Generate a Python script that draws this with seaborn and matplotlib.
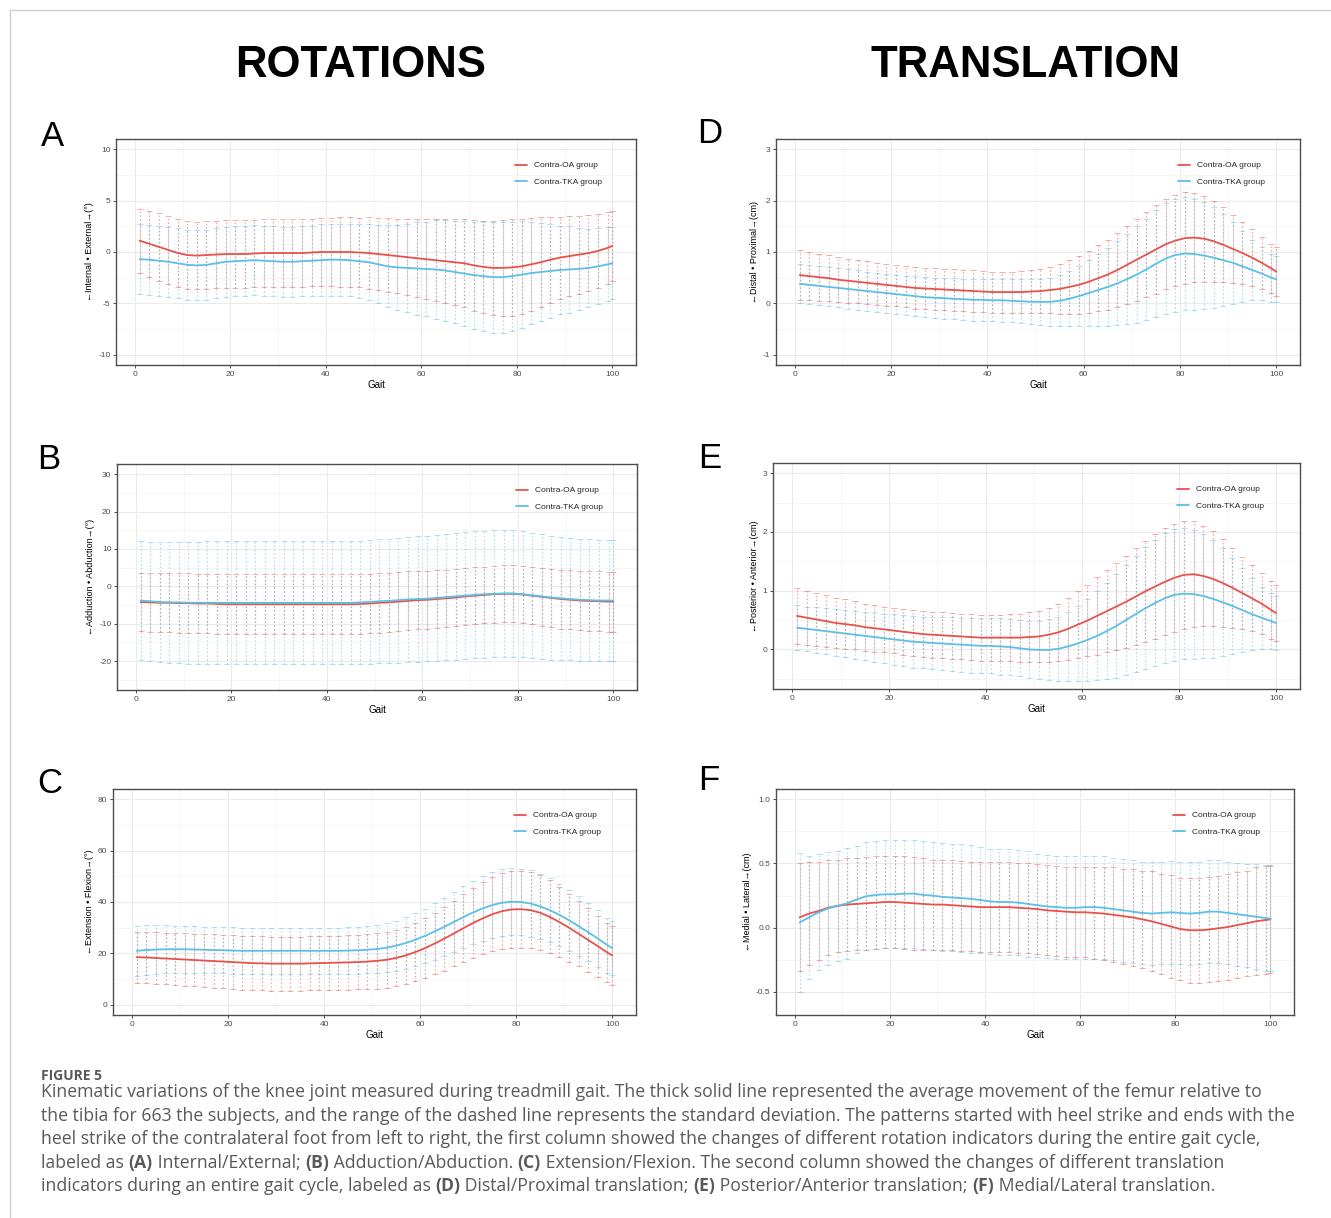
"""
Knee kinematics during treadmill gait (Contra-OA vs Contra-TKA groups).
Six panels: rotations (A-C) on the left, translations (D-F) on the right.
"""
import re
import numpy as np
import pandas as pd
import matplotlib
matplotlib.use("Agg")
import matplotlib.pyplot as plt
from matplotlib.lines import Line2D
import seaborn as sns

W, H = 1331, 1218

GROUPS = ["Contra-OA group", "Contra-TKA group"]
COLORS = ["#E8524B", "#5BBFE6"]

GAIT = list(range(1, 100, 2)) + [100]

# ---- A: internal / external rotation (deg)
A_OA_MEAN = [1.10, 0.80, 0.50, 0.20, -0.10, -0.30, -0.35, -0.30, -0.25, -0.20,
             -0.20, -0.20, -0.15, -0.10, -0.10, -0.10, -0.10, -0.10, -0.05, 0.00,
             0.00, 0.00, 0.00, -0.05, -0.10, -0.20, -0.30, -0.40, -0.50, -0.60,
             -0.70, -0.80, -0.90, -1.00, -1.10, -1.30, -1.45, -1.55, -1.55, -1.50,
             -1.40, -1.20, -1.00, -0.75, -0.55, -0.40, -0.25, -0.10, 0.10, 0.40,
             0.60]
A_OA_SD = [3.1, 3.2, 3.3, 3.3, 3.3, 3.3, 3.3, 3.3, 3.3, 3.3,
           3.3, 3.3, 3.3, 3.3, 3.3, 3.3, 3.3, 3.3, 3.3, 3.3,
           3.3, 3.4, 3.4, 3.4, 3.5, 3.5, 3.6, 3.6, 3.7, 3.8,
           3.9, 4.0, 4.1, 4.2, 4.3, 4.4, 4.5, 4.6, 4.7, 4.7,
           4.6, 4.5, 4.4, 4.2, 4.0, 3.9, 3.8, 3.7, 3.6, 3.5,
           3.4]
A_TKA_MEAN = [-0.70, -0.75, -0.85, -0.95, -1.10, -1.25, -1.30, -1.25, -1.10, -0.95,
              -0.90, -0.85, -0.80, -0.85, -0.90, -0.95, -0.95, -0.90, -0.85, -0.80,
              -0.75, -0.75, -0.80, -0.90, -1.00, -1.20, -1.40, -1.50, -1.55, -1.60,
              -1.65, -1.70, -1.80, -1.95, -2.10, -2.25, -2.35, -2.45, -2.45, -2.35,
              -2.20, -2.05, -1.95, -1.85, -1.75, -1.70, -1.65, -1.55, -1.40, -1.20,
              -1.10]
A_TKA_SD = [3.4, 3.4, 3.4, 3.4, 3.4, 3.4, 3.4, 3.4, 3.4, 3.4,
            3.4, 3.4, 3.4, 3.4, 3.4, 3.4, 3.4, 3.4, 3.4, 3.5,
            3.5, 3.5, 3.5, 3.6, 3.7, 3.8, 4.0, 4.1, 4.3, 4.5,
            4.6, 4.8, 4.9, 5.0, 5.1, 5.2, 5.3, 5.4, 5.4, 5.3,
            5.2, 5.0, 4.8, 4.6, 4.3, 4.2, 4.0, 3.8, 3.7, 3.6,
            3.5]

# ---- B: adduction / abduction (deg)
B_OA_MEAN = [-4.2, -4.3, -4.4, -4.4, -4.5, -4.5, -4.6, -4.6, -4.7, -4.8,
             -4.8, -4.8, -4.8, -4.8, -4.8, -4.8, -4.8, -4.8, -4.8, -4.8,
             -4.8, -4.8, -4.8, -4.7, -4.6, -4.4, -4.3, -4.1, -3.9, -3.7,
             -3.6, -3.4, -3.2, -3.0, -2.7, -2.5, -2.3, -2.1, -2.0, -2.0,
             -2.2, -2.5, -2.8, -3.1, -3.4, -3.6, -3.8, -3.9, -4.0, -4.1,
             -4.1]
B_OA_SD = [7.8, 7.8, 7.9, 7.9, 8.0, 8.0, 8.0, 8.0, 8.0, 8.0,
           8.0, 8.0, 8.0, 8.0, 8.0, 8.0, 8.0, 8.0, 8.0, 8.0,
           8.0, 8.0, 8.0, 8.0, 8.0, 8.0, 8.0, 7.9, 7.9, 7.8,
           7.8, 7.8, 7.7, 7.7, 7.6, 7.6, 7.6, 7.6, 7.6, 7.6,
           7.7, 7.7, 7.8, 7.8, 7.9, 7.9, 8.0, 8.0, 8.0, 8.0,
           8.0]
B_TKA_MEAN = [-3.8, -4.0, -4.2, -4.3, -4.3, -4.4, -4.4, -4.4, -4.4, -4.4,
              -4.4, -4.4, -4.4, -4.4, -4.4, -4.4, -4.4, -4.4, -4.4, -4.4,
              -4.4, -4.4, -4.4, -4.3, -4.2, -4.0, -3.9, -3.7, -3.5, -3.4,
              -3.3, -3.1, -2.9, -2.7, -2.5, -2.3, -2.1, -2.0, -1.9, -1.9,
              -2.1, -2.4, -2.7, -3.0, -3.2, -3.4, -3.6, -3.7, -3.8, -3.8,
              -3.8]
B_TKA_SD = [16.0, 16.0, 16.0, 16.1, 16.2, 16.3, 16.4, 16.5, 16.5, 16.5,
            16.5, 16.5, 16.5, 16.5, 16.5, 16.5, 16.5, 16.5, 16.5, 16.5,
            16.5, 16.5, 16.5, 16.5, 16.5, 16.6, 16.6, 16.7, 16.7, 16.8,
            16.8, 16.9, 16.9, 17.0, 17.0, 17.0, 17.0, 17.0, 17.0, 17.0,
            16.9, 16.8, 16.7, 16.6, 16.5, 16.4, 16.4, 16.3, 16.3, 16.3,
            16.3]

# ---- C: extension / flexion (deg)
C_OA_MEAN = [18.5, 18.4, 18.2, 18.0, 17.8, 17.6, 17.4, 17.2, 17.0, 16.8,
             16.6, 16.4, 16.2, 16.1, 16.0, 16.0, 16.0, 16.0, 16.1, 16.2,
             16.3, 16.4, 16.5, 16.6, 16.8, 17.1, 17.5, 18.2, 19.2, 20.5,
             22.0, 23.8, 25.7, 27.7, 29.8, 31.8, 33.6, 35.2, 36.4, 37.1,
             37.2, 36.8, 35.8, 34.2, 32.2, 30.0, 27.6, 25.2, 22.8, 20.3,
             19.2]
C_OA_SD = [10.0, 10.0, 10.1, 10.1, 10.2, 10.2, 10.3, 10.3, 10.4, 10.4,
           10.5, 10.5, 10.5, 10.5, 10.5, 10.5, 10.5, 10.5, 10.5, 10.5,
           10.5, 10.5, 10.6, 10.6, 10.7, 10.8, 10.9, 11.0, 11.2, 11.4,
           11.7, 12.0, 12.4, 12.8, 13.2, 13.6, 14.0, 14.4, 14.7, 14.9,
           15.0, 14.9, 14.6, 14.2, 13.7, 13.2, 12.7, 12.3, 11.9, 11.6,
           11.5]
C_TKA_MEAN = [21.0, 21.3, 21.5, 21.6, 21.6, 21.6, 21.5, 21.4, 21.3, 21.2,
              21.1, 21.0, 21.0, 21.0, 21.0, 21.0, 21.0, 21.0, 21.0, 21.0,
              21.0, 21.0, 21.1, 21.2, 21.4, 21.7, 22.2, 23.0, 24.0, 25.3,
              26.8, 28.5, 30.3, 32.2, 34.1, 35.9, 37.5, 38.8, 39.7, 40.1,
              40.0, 39.4, 38.3, 36.8, 35.0, 32.9, 30.6, 28.2, 25.8, 23.2,
              22.0]
C_TKA_SD = [9.8, 9.6, 9.4, 9.3, 9.2, 9.1, 9.0, 9.0, 9.0, 9.0,
            9.0, 9.0, 9.0, 9.0, 9.0, 9.0, 9.0, 9.0, 9.0, 9.0,
            9.0, 9.0, 9.0, 9.1, 9.2, 9.3, 9.5, 9.7, 10.0, 10.3,
            10.6, 11.0, 11.3, 11.7, 12.0, 12.3, 12.6, 12.8, 13.0, 13.0,
            13.0, 12.9, 12.7, 12.5, 12.2, 11.9, 11.6, 11.3, 11.0, 10.7,
            10.5]

# ---- D: distal / proximal translation (cm)
D_OA_MEAN = [0.55, 0.53, 0.51, 0.49, 0.46, 0.44, 0.42, 0.40, 0.38, 0.36,
             0.34, 0.32, 0.30, 0.29, 0.28, 0.27, 0.26, 0.25, 0.24, 0.23,
             0.22, 0.22, 0.22, 0.22, 0.23, 0.24, 0.26, 0.28, 0.32, 0.36,
             0.42, 0.49, 0.56, 0.65, 0.75, 0.85, 0.95, 1.05, 1.15, 1.22,
             1.27, 1.28, 1.26, 1.21, 1.14, 1.06, 0.98, 0.89, 0.79, 0.68,
             0.62]
D_OA_SD = [0.48, 0.47, 0.46, 0.45, 0.44, 0.43, 0.42, 0.42, 0.41, 0.41,
           0.40, 0.40, 0.40, 0.40, 0.40, 0.40, 0.40, 0.40, 0.40, 0.40,
           0.40, 0.40, 0.40, 0.41, 0.42, 0.43, 0.45, 0.48, 0.52, 0.56,
           0.60, 0.64, 0.68, 0.72, 0.76, 0.80, 0.83, 0.86, 0.88, 0.89,
           0.89, 0.87, 0.84, 0.79, 0.73, 0.66, 0.60, 0.55, 0.51, 0.48,
           0.47]
D_TKA_MEAN = [0.38, 0.36, 0.34, 0.32, 0.30, 0.28, 0.26, 0.24, 0.22, 0.20,
              0.18, 0.16, 0.14, 0.12, 0.11, 0.10, 0.09, 0.08, 0.07, 0.07,
              0.06, 0.06, 0.05, 0.04, 0.03, 0.03, 0.03, 0.05, 0.09, 0.14,
              0.20, 0.26, 0.32, 0.39, 0.47, 0.56, 0.66, 0.77, 0.87, 0.94,
              0.97, 0.96, 0.93, 0.89, 0.84, 0.79, 0.72, 0.65, 0.58, 0.50,
              0.47]
D_TKA_SD = [0.38, 0.38, 0.38, 0.38, 0.38, 0.38, 0.38, 0.38, 0.38, 0.38,
            0.38, 0.38, 0.39, 0.39, 0.39, 0.40, 0.40, 0.40, 0.41, 0.41,
            0.41, 0.42, 0.42, 0.43, 0.44, 0.45, 0.47, 0.50, 0.54, 0.59,
            0.64, 0.70, 0.76, 0.82, 0.88, 0.94, 0.99, 1.04, 1.08, 1.10,
            1.10, 1.08, 1.04, 0.98, 0.90, 0.80, 0.69, 0.59, 0.52, 0.47,
            0.45]

# ---- E: posterior / anterior translation (cm)
E_OA_MEAN = [0.57, 0.54, 0.51, 0.48, 0.45, 0.43, 0.41, 0.38, 0.36, 0.34,
             0.32, 0.30, 0.28, 0.26, 0.25, 0.24, 0.23, 0.22, 0.21, 0.20,
             0.20, 0.20, 0.20, 0.20, 0.21, 0.22, 0.25, 0.29, 0.35, 0.42,
             0.49, 0.57, 0.65, 0.73, 0.81, 0.90, 0.99, 1.07, 1.15, 1.22,
             1.27, 1.28, 1.25, 1.20, 1.13, 1.05, 0.96, 0.87, 0.78, 0.67,
             0.62]
E_OA_SD = [0.47, 0.46, 0.45, 0.44, 0.43, 0.42, 0.41, 0.40, 0.40, 0.39,
           0.39, 0.39, 0.39, 0.39, 0.39, 0.39, 0.39, 0.39, 0.39, 0.39,
           0.39, 0.39, 0.40, 0.41, 0.42, 0.44, 0.46, 0.49, 0.53, 0.57,
           0.61, 0.66, 0.70, 0.74, 0.78, 0.82, 0.86, 0.89, 0.91, 0.92,
           0.92, 0.90, 0.86, 0.81, 0.75, 0.68, 0.62, 0.56, 0.52, 0.49,
           0.48]
E_TKA_MEAN = [0.37, 0.35, 0.33, 0.31, 0.29, 0.27, 0.25, 0.23, 0.21, 0.19,
              0.17, 0.15, 0.13, 0.12, 0.11, 0.10, 0.09, 0.08, 0.07, 0.06,
              0.06, 0.05, 0.04, 0.02, 0.00, -0.01, -0.01, 0.01, 0.05, 0.10,
              0.16, 0.23, 0.31, 0.40, 0.50, 0.60, 0.70, 0.79, 0.87, 0.93,
              0.95, 0.94, 0.91, 0.86, 0.80, 0.74, 0.67, 0.60, 0.54, 0.48,
              0.45]
E_TKA_SD = [0.38, 0.38, 0.39, 0.39, 0.40, 0.40, 0.41, 0.41, 0.42, 0.42,
            0.43, 0.43, 0.44, 0.44, 0.45, 0.45, 0.46, 0.46, 0.47, 0.47,
            0.47, 0.48, 0.48, 0.48, 0.49, 0.50, 0.52, 0.55, 0.59, 0.64,
            0.70, 0.76, 0.82, 0.88, 0.94, 0.99, 1.04, 1.08, 1.11, 1.12,
            1.12, 1.10, 1.06, 1.00, 0.92, 0.82, 0.71, 0.61, 0.53, 0.48,
            0.46]

# ---- F: medial / lateral translation (cm)
F_OA_MEAN = [0.080, 0.110, 0.130, 0.155, 0.170, 0.180, 0.185, 0.190, 0.195, 0.200,
             0.200, 0.195, 0.190, 0.185, 0.180, 0.180, 0.175, 0.170, 0.165, 0.160,
             0.160, 0.160, 0.160, 0.155, 0.150, 0.145, 0.135, 0.130, 0.125, 0.120,
             0.120, 0.115, 0.110, 0.100, 0.090, 0.080, 0.065, 0.050, 0.030, 0.010,
             -0.010, -0.020, -0.020, -0.015, -0.005, 0.005, 0.020, 0.035, 0.050, 0.060,
             0.065]
F_OA_SD = [0.42, 0.40, 0.38, 0.37, 0.36, 0.36, 0.36, 0.36, 0.36, 0.36,
           0.36, 0.36, 0.36, 0.36, 0.35, 0.35, 0.35, 0.35, 0.35, 0.35,
           0.35, 0.35, 0.35, 0.35, 0.35, 0.35, 0.35, 0.35, 0.35, 0.35,
           0.35, 0.36, 0.36, 0.37, 0.37, 0.38, 0.38, 0.39, 0.39, 0.40,
           0.40, 0.41, 0.41, 0.41, 0.41, 0.41, 0.41, 0.41, 0.42, 0.42,
           0.42]
F_TKA_MEAN = [0.040, 0.080, 0.120, 0.150, 0.170, 0.190, 0.220, 0.245, 0.255, 0.260,
              0.260, 0.265, 0.265, 0.255, 0.250, 0.240, 0.235, 0.230, 0.225, 0.215,
              0.205, 0.200, 0.200, 0.195, 0.185, 0.175, 0.165, 0.160, 0.155, 0.155,
              0.160, 0.160, 0.155, 0.145, 0.135, 0.125, 0.115, 0.110, 0.115, 0.120,
              0.115, 0.110, 0.115, 0.125, 0.125, 0.115, 0.105, 0.095, 0.085, 0.075,
              0.070]
F_TKA_SD = [0.54, 0.48, 0.45, 0.44, 0.43, 0.43, 0.42, 0.42, 0.42, 0.42,
            0.42, 0.42, 0.42, 0.42, 0.42, 0.42, 0.42, 0.42, 0.42, 0.41,
            0.41, 0.41, 0.41, 0.41, 0.41, 0.40, 0.40, 0.40, 0.40, 0.40,
            0.40, 0.40, 0.40, 0.40, 0.40, 0.40, 0.40, 0.40, 0.40, 0.40,
            0.40, 0.40, 0.40, 0.40, 0.40, 0.40, 0.40, 0.40, 0.41, 0.41,
            0.41]

# panel letter, y-axis title, y ticks, y tick labels
PANELS = [
    ("A", "←Internal • External→(°)", [-10, -5, 0, 5, 10], None,
     (A_OA_MEAN, A_OA_SD, A_TKA_MEAN, A_TKA_SD)),
    ("B", "←Adduction • Abduction→(°)", [-20, -10, 0, 10, 20, 30], None,
     (B_OA_MEAN, B_OA_SD, B_TKA_MEAN, B_TKA_SD)),
    ("C", "←Extension • Flexion→(°)", [0, 20, 40, 60, 80], None,
     (C_OA_MEAN, C_OA_SD, C_TKA_MEAN, C_TKA_SD)),
    ("D", "←Distal • Proximal→(cm)", [-1, 0, 1, 2, 3], None,
     (D_OA_MEAN, D_OA_SD, D_TKA_MEAN, D_TKA_SD)),
    ("E", "←Posterior • Anterior→(cm)", [0, 1, 2, 3], None,
     (E_OA_MEAN, E_OA_SD, E_TKA_MEAN, E_TKA_SD)),
    ("F", "←Medial • Lateral→(cm)", [-0.5, 0.0, 0.5, 1.0], ["-0.5", "0.0", "0.5", "1.0"],
     (F_OA_MEAN, F_OA_SD, F_TKA_MEAN, F_TKA_SD)),
]

# layout in pixels: axes box (left, top, right, bottom), y limits, letter position
LAYOUT = {
    "A": ((116, 139, 636, 365), (-11, 11), (52, 146)),
    "B": ((117, 464, 637, 690), (-27.75, 32.75), (49, 469)),
    "C": ((113, 789, 636, 1015), (-4, 84), (50, 793)),
    "D": ((776, 139, 1300, 365), (-1.2, 3.2), (710, 143)),
    "E": ((773, 463, 1300, 689), (-0.675, 3.175), (710, 468)),
    "F": ((776, 789, 1294, 1015), (-0.68, 1.08), (709, 790)),
}

CAPTION_LINES = [
    "Kinematic variations of the knee joint measured during treadmill gait. The thick solid line represented the average movement of the femur relative to",
    "the tibia for 663 the subjects, and the range of the dashed line represents the standard deviation. The patterns started with heel strike and ends with the",
    "heel strike of the contralateral foot from left to right, the first column showed the changes of different rotation indicators during the entire gait cycle,",
    "labeled as (A) Internal/External; (B) Adduction/Abduction. (C) Extension/Flexion. The second column showed the changes of different translation",
    "indicators during an entire gait cycle, labeled as (D) Distal/Proximal translation; (E) Posterior/Anterior translation; (F) Medial/Lateral translation.",
]

sns.set_style("white")
plt.rcParams["font.family"] = ["Liberation Sans", "DejaVu Sans"]
plt.rcParams["axes.unicode_minus"] = False

CAPTION_FONT = ["Open Sans", "Lato", "DejaVu Sans"]
CAPTION_COLOR = "#595959"


def fx(x):
    return x / W


def fy(y):
    return 1 - y / H


def minor_between(ticks, lims):
    step = ticks[1] - ticks[0]
    cand = np.arange(ticks[0] - step / 2, ticks[-1] + step, step)
    return [c for c in cand if lims[0] < c < lims[1]]


def draw_panel(fig, letter, ylabel, yticks, yticklabels, data):
    (l, t, r, b), ylim, (lx, ly) = LAYOUT[letter]
    ax = fig.add_axes([fx(l), fy(b), (r - l) / W, (b - t) / H])
    oa_m, oa_sd, tka_m, tka_sd = data
    df = pd.DataFrame({
        "gait": GAIT * 2,
        "mean": oa_m + tka_m,
        "sd": oa_sd + tka_sd,
        "group": [GROUPS[0]] * len(GAIT) + [GROUPS[1]] * len(GAIT),
    })

    # dotted SD bars first, mean lines on top
    for grp, col in zip(GROUPS, COLORS):
        sub = df[df["group"] == grp]
        eb = ax.errorbar(sub["gait"], sub["mean"], yerr=sub["sd"], fmt="none",
                         ecolor=col, elinewidth=0.85, capsize=2.2, capthick=0.65,
                         alpha=0.5, zorder=2)
        eb[2][0].set_linestyle((0, (1.4, 1.8)))

    sns.lineplot(data=df, x="gait", y="mean", hue="group", hue_order=GROUPS,
                 palette=COLORS, linewidth=1.3, errorbar=None, ax=ax, zorder=3)

    handles, labels = ax.get_legend_handles_labels()
    ax.legend(handles, labels, loc="upper left", bbox_to_anchor=(0.767, 0.9),
              frameon=False, fontsize=6, handlelength=1.45, handletextpad=0.85,
              labelspacing=1.0, borderaxespad=0, borderpad=0)

    ax.set_xlim(-3.95, 104.95)
    ax.set_ylim(*ylim)
    ax.set_xticks(range(0, 101, 20))
    ax.set_xticks(range(10, 100, 20), minor=True)
    ax.set_yticks(yticks)
    if yticklabels:
        ax.set_yticklabels(yticklabels)
    ax.set_yticks(minor_between(yticks, ylim), minor=True)
    ax.grid(which="major", color="#EBEBEB", linewidth=0.8)
    ax.grid(which="minor", color="#F3F3F3", linewidth=0.5)
    ax.set_axisbelow(True)

    ax.tick_params(which="major", direction="out", length=2.5, width=0.6,
                   color="#333333", labelsize=6, labelcolor="#4D4D4D", pad=1.5,
                   left=True, bottom=True)
    ax.tick_params(which="minor", length=0)
    for sp in ax.spines.values():
        sp.set_color("#4D4D4D")
        sp.set_linewidth(1.0)

    ax.set_xlabel("Gait", fontsize=7, labelpad=2, color="black")
    ax.set_ylabel(ylabel, fontsize=6.5, labelpad=3, color="black")

    fig.text(fx(lx), fy(ly), letter, fontsize=25, ha="center", va="baseline",
             color="black")
    return ax


def draw_rich_line(fig, renderer, x, y, line, size):
    cur = x
    for part in re.split(r"(\([A-F]\))", line):
        if not part:
            continue
        bold = re.fullmatch(r"\([A-F]\)", part) is not None
        txt = fig.text(fx(cur), fy(y), part, fontsize=size, color=CAPTION_COLOR,
                       fontweight="bold" if bold else "normal",
                       family=CAPTION_FONT, ha="left", va="baseline")
        cur += txt.get_window_extent(renderer).width


fig = plt.figure(figsize=(W / 100, H / 100), dpi=100)
fig.patch.set_facecolor("white")

# page frame
fig.add_artist(Line2D([fx(10), 1], [fy(10), fy(10)], color="#CFCFCF", lw=1.0))
fig.add_artist(Line2D([fx(10), fx(10)], [fy(10), 0], color="#CFCFCF", lw=1.0))

fig.text(fx(361), fy(77), "ROTATIONS", fontsize=31.5, fontweight="bold",
         color="black", ha="center", va="baseline")
fig.text(fx(1026), fy(77), "TRANSLATION", fontsize=31.5, fontweight="bold",
         color="black", ha="center", va="baseline")

for letter, ylabel, yticks, ytl, data in PANELS:
    draw_panel(fig, letter, ylabel, yticks, ytl, data)

renderer = fig.canvas.get_renderer()
fig.text(fx(41), fy(1080), "FIGURE 5", fontsize=10, color=CAPTION_COLOR,
         family=CAPTION_FONT, fontweight="bold", ha="left", va="baseline")
for i, line in enumerate(CAPTION_LINES):
    draw_rich_line(fig, renderer, 41, 1097 + i * 23.6, line, 12.7)

fig.savefig("out.png", dpi=100, facecolor="white")
plt.close(fig)
